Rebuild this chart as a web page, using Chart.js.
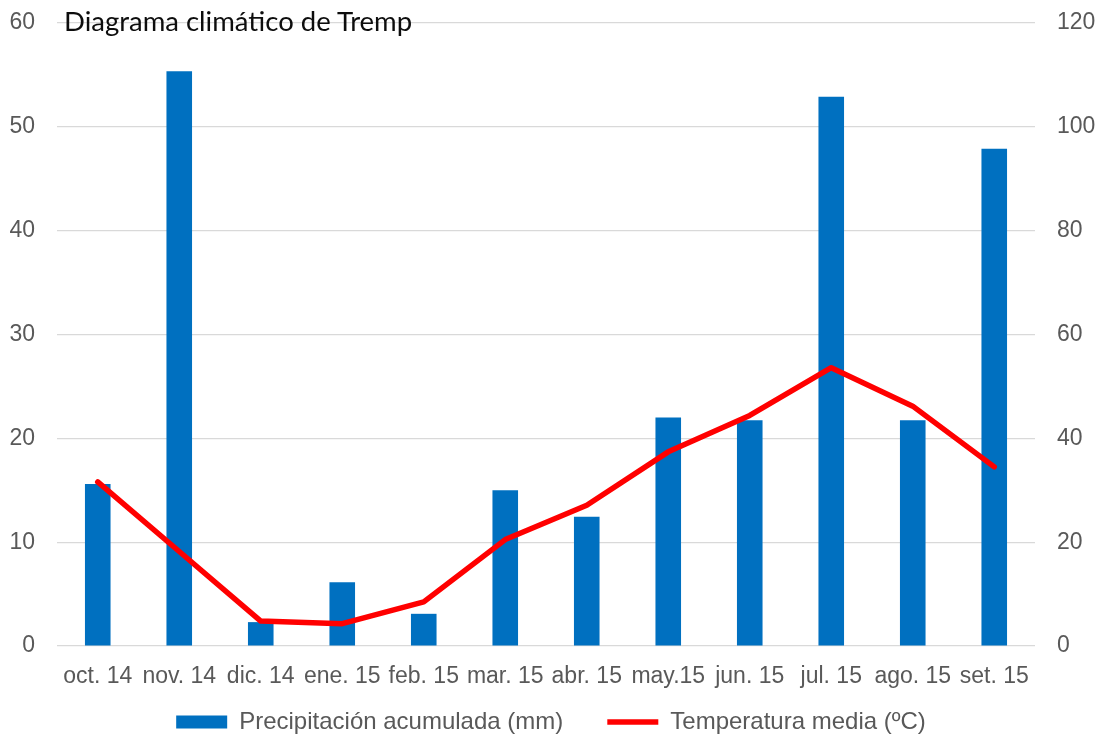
<!DOCTYPE html>
<html>
<head>
<meta charset="utf-8">
<script src="https://cdn.jsdelivr.net/npm/chart.js@4"></script>
<style>
  body { margin: 0; background: #fff; }
  #wrap { position: relative; width: 1102px; height: 738px; }
  #title {
    position: absolute; left: 64px; top: 4px;
    font-family: Lato, "Open Sans", sans-serif; font-size: 27.5px; color: #0d0d0d;
    white-space: nowrap;
  }
</style>
</head>
<body>
<div id="wrap">
  <canvas id="chart" width="1102" height="738"></canvas>
  <div id="title">Diagrama climático de Tremp</div>
</div>
<script>
const months = ['oct. 14', 'nov. 14', 'dic. 14', 'ene. 15', 'feb. 15', 'mar. 15',
                'abr. 15', 'may.15', 'jun. 15', 'jul. 15', 'ago. 15', 'set. 15'];
const precip = [31.2, 110.7, 4.6, 12.3, 6.2, 30.0, 24.9, 44.0, 43.5, 105.8, 43.5, 95.8];
const temp = [15.8, 9.1, 2.4, 2.15, 4.25, 10.25, 13.55, 18.7, 22.2, 26.8, 23.1, 17.25];
const leftTicks = [0, 10, 20, 30, 40, 50, 60];
const rightTicks = [0, 20, 40, 60, 80, 100, 120];

const grey = '#595959';
const font = { family: '"Liberation Sans", Arial, sans-serif', size: 23 };
const legendFont = { family: '"Liberation Sans", Arial, sans-serif', size: 24 };

// legend box is kept short in the layout; stretch it upwards so the items land under the tick labels
const legendLift = {
  id: 'legendLift',
  afterLayout(chart) {
    chart.legend.top -= 26;
  }
};

new Chart(document.getElementById('chart'), {
  data: {
    labels: months,
    datasets: [{
      type: 'bar',
      label: 'Precipitación acumulada (mm)',
      data: precip,
      yAxisID: 'y2',
      backgroundColor: '#0070C0',
      borderWidth: 0,
      pointStyle: 'rect',
      categoryPercentage: 1,
      barPercentage: 0.314,
      order: 2
    }, {
      type: 'line',
      label: 'Temperatura media (ºC)',
      data: temp,
      yAxisID: 'y',
      borderColor: '#FF0000',
      backgroundColor: '#FF0000',
      borderWidth: 5.5,
      borderCapStyle: 'round',
      borderJoinStyle: 'round',
      pointRadius: 0,
      pointStyle: 'line',
      tension: 0,
      order: 1
    }]
  },
  plugins: [legendLift],
  options: {
    responsive: false,
    animation: false,
    layout: { padding: { top: 23, bottom: 0, left: 0, right: 0 } },
    plugins: {
      tooltip: { enabled: false },
      legend: {
        position: 'bottom',
        maxHeight: 46,
        labels: {
          usePointStyle: true,
          pointStyleWidth: 51,
          boxHeight: 13,
          padding: 44,
          color: grey,
          font: legendFont,
          sort: (a, b) => a.datasetIndex - b.datasetIndex
        }
      }
    },
    scales: {
      x: {
        afterFit: s => { s.height = 46; },
        grid: { display: false, drawTicks: false },
        border: { display: false },
        ticks: { color: grey, font: font, autoSkip: false, maxRotation: 0, padding: 17 }
      },
      y: {
        position: 'left',
        min: 0, max: 60,
        afterBuildTicks: s => { s.ticks = leftTicks.map(v => ({ value: v })); },
        afterFit: s => { s.width = 57; },
        grid: { color: '#d9d9d9', lineWidth: 1.3, tickLength: 22, tickColor: 'rgba(0,0,0,0)' },
        border: { display: false },
        ticks: { color: grey, font: font, padding: 0 }
      },
      y2: {
        position: 'right',
        min: 0, max: 120,
        afterBuildTicks: s => { s.ticks = rightTicks.map(v => ({ value: v })); },
        afterFit: s => { s.width = 67; },
        grid: { drawOnChartArea: false, tickLength: 22, tickColor: 'rgba(0,0,0,0)' },
        border: { display: false },
        ticks: { color: grey, font: font, padding: 0 }
      }
    }
  }
});
</script>
</body>
</html>
